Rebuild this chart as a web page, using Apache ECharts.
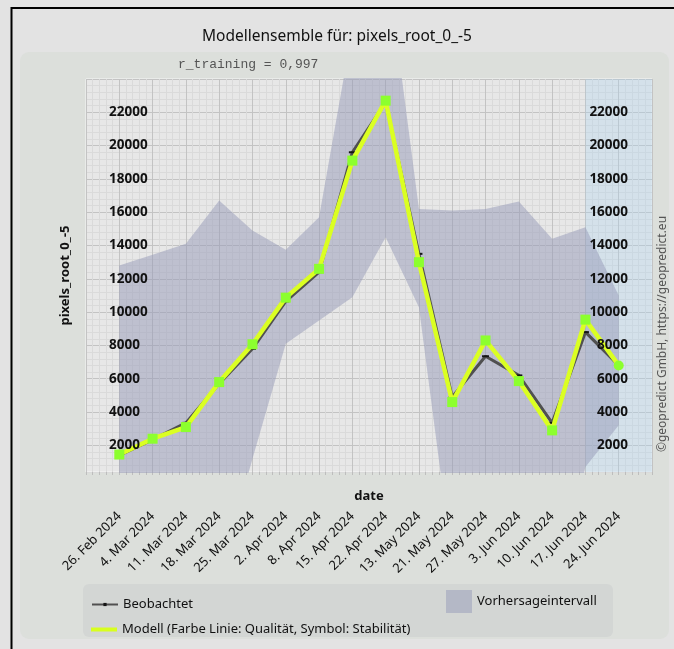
<!DOCTYPE html>
<html>
<head>
<meta charset="utf-8">
<script src="https://cdn.jsdelivr.net/npm/echarts@6/dist/echarts.min.js"></script>
<style>
  html, body { margin: 0; padding: 0; background: #e3e3e3; }
  #chart { width: 674px; height: 649px; }
</style>
</head>
<body>
<div id="chart"></div>
<script>
// Weekly dates of the ensemble run
const dateLabels = ['26. Feb 2024', '4. Mar 2024', '11. Mar 2024', '18. Mar 2024', '25. Mar 2024',
  '2. Apr 2024', '8. Apr 2024', '15. Apr 2024', '22. Apr 2024', '13. May 2024', '21. May 2024',
  '27. May 2024', '3. Jun 2024', '10. Jun 2024', '17. Jun 2024', '24. Jun 2024'];

// Observed values (Beobachtet)
const observed = [1400, 2350, 3350, 5700, 7800, 10650, 12400, 19600, 22600, 13500, 4900, 7350, 6200, 3350, 8800, 6800];

// Ensemble model values
const model = [1450, 2400, 3100, 5800, 8070, 10870, 12600, 19100, 22700, 13000, 4600, 8300, 5860, 2900, 9550, 6800];
const modelSymbols = ['rect', 'rect', 'rect', 'rect', 'rect', 'rect', 'rect', 'rect', 'rect', 'rect',
  'rect', 'rect', 'rect', 'rect', 'rect', 'circle'];

// Prediction interval bounds (Vorhersageintervall)
const intervalLower = [-9000, -9000, -8000, -6000, 1200, 8100, 9500, 10900, 14500, 10300, -5000, -9000, -9000, -8000, 700, 3200];
const intervalUpper = [12800, 13450, 14100, 16700, 14900, 13750, 15700, 27000, 31500, 16200, 16100, 16200, 16650, 14400, 15100, 11000];

// Forecast period starts at this date index
const forecastStart = 14;

// Labelled y values
const yTickValues = [2000, 4000, 6000, 8000, 10000, 12000, 14000, 16000, 18000, 20000, 22000];

const modelName = 'Modell (Farbe Linie: Qualität, Symbol: Stabilität)';

const chart = echarts.init(document.getElementById('chart'), null, { renderer: 'canvas' });

// one empty slot on each side of the dates
const padL = ' ', padR = '  ';
const cats = [padL].concat(dateLabels, [padR]);
const xy = arr => arr.map((v, i) => [i + 1, v]);
const yLabel = v => (yTickValues.indexOf(v) >= 0 ? String(v) : '');

const minorC = '#dadada', majorC = '#c3c3c3';
const hLineColors = [minorC, minorC, minorC, minorC, majorC];
const vLineColors = [majorC, minorC, minorC, minorC, minorC];
const txt = '#111';

const option = {
  animation: false,
  backgroundColor: '#e3e3e3',
  textStyle: { fontFamily: 'Noto Sans' },
  title: {
    text: 'Modellensemble für: pixels_root_0_-5',
    left: 'center', top: 24,
    textStyle: { fontSize: 15.5, fontWeight: 'normal', color: txt, fontFamily: 'Noto Sans' }
  },
  graphic: [
    { type: 'rect', z: -10, silent: true, shape: { x: 20, y: 52, width: 649, height: 587, r: 9 }, style: { fill: '#dcdfdb' } },
    { type: 'rect', z: -9, silent: true, shape: { x: 83, y: 584, width: 530, height: 53, r: 6 }, style: { fill: '#d3d6d4' } },
    { type: 'line', silent: true, shape: { x1: 11, y1: 8, x2: 674, y2: 8 }, style: { stroke: '#000', lineWidth: 2 } },
    { type: 'line', silent: true, shape: { x1: 11.5, y1: 7, x2: 11.5, y2: 649 }, style: { stroke: '#000', lineWidth: 2 } },
    { type: 'text', silent: true, x: 178, y: 65,
      style: { text: 'r_training = 0,997', fontFamily: 'Liberation Mono', fontSize: 13, fill: '#555', verticalAlign: 'middle' } },
    { type: 'text', silent: true, x: 663, y: 334, rotation: Math.PI / 2,
      style: { text: '©geopredict GmbH, https://geopredict.eu', fontFamily: 'Noto Sans', fontSize: 12,
        fill: '#555', align: 'center', verticalAlign: 'middle' } }
  ],
  legend: [
    { data: ['Beobachtet'], left: 91, top: 598, itemWidth: 26, itemHeight: 4, padding: 0,
      selectedMode: false, textStyle: { fontSize: 13, color: txt } },
    { data: [{ name: 'Vorhersageintervall', icon: 'rect' }], left: 446, top: 590, itemWidth: 26, itemHeight: 23,
      padding: 0, selectedMode: false, textStyle: { fontSize: 13, color: txt } },
    { data: [{ name: modelName, icon: 'rect', itemStyle: { color: '#d8ff1e' } }], left: 91, top: 623,
      itemWidth: 26, itemHeight: 4, padding: 0, selectedMode: false, textStyle: { fontSize: 13, color: txt } }
  ],
  grid: {
    left: 86, top: 79, width: 566, height: 393,
    show: true, backgroundColor: '#e7e7e7', borderColor: '#f7f7f7', borderWidth: 1
  },
  xAxis: [
    {
      type: 'category', data: cats, boundaryGap: false,
      axisLine: { show: false }, axisTick: { show: false }, splitLine: { show: false },
      axisLabel: { interval: 0, rotate: 45, margin: 42, fontSize: 13, color: txt },
      name: 'date', nameLocation: 'middle', nameGap: 18, nameMoveOverlap: false,
      nameTextStyle: { fontSize: 13, fontWeight: 'bold', color: txt }
    },
    {
      // fine vertical grid, five steps per date
      type: 'value', min: 0, max: 85, interval: 1, position: 'bottom',
      axisLine: { show: false }, axisLabel: { show: false },
      axisTick: { show: true, length: 3, lineStyle: { color: '#bdbdbd' } },
      splitLine: { show: true, lineStyle: { color: vLineColors, width: 1 } }
    }
  ],
  yAxis: [
    {
      type: 'value', min: 400, max: 24000, interval: 400, position: 'left', z: 10,
      axisLine: { show: false }, axisTick: { show: false }, splitLine: { show: false },
      axisLabel: { inside: true, margin: 23, formatter: yLabel, fontSize: 13.5, fontWeight: 'bold', color: txt },
      name: 'pixels_root_0_-5', nameLocation: 'middle', nameGap: 14,
      nameTextStyle: { fontSize: 13, fontWeight: 'bold', color: txt }
    },
    {
      type: 'value', min: 400, max: 24000, interval: 400, position: 'right', z: 10,
      axisLine: { show: false }, axisTick: { show: false }, splitLine: { show: false },
      axisLabel: { inside: true, margin: 24, formatter: yLabel, fontSize: 13.5, fontWeight: 'bold', color: txt }
    },
    {
      // horizontal grid: fine steps, darker every 2000
      type: 'value', min: 400, max: 24000, interval: 400, position: 'left',
      axisLine: { show: false }, axisTick: { show: false }, axisLabel: { show: false },
      splitLine: { show: true, lineStyle: { color: hLineColors, width: 1 } }
    }
  ],
  series: [
    {
      name: 'intervalBase', type: 'line', data: xy(intervalLower),
      stack: 'band', stackStrategy: 'all', symbol: 'none', silent: true, z: 1,
      lineStyle: { opacity: 0 },
      markArea: {
        silent: true,
        itemStyle: { color: 'rgba(170, 212, 238, 0.32)' },
        data: [[{ xAxis: dateLabels[forecastStart] }, { xAxis: padR }]]
      }
    },
    {
      name: 'Vorhersageintervall', type: 'line',
      data: xy(intervalUpper.map((u, i) => u - intervalLower[i])),
      stack: 'band', stackStrategy: 'all', symbol: 'none', silent: true, z: 2,
      lineStyle: { opacity: 0 },
      itemStyle: { color: 'rgba(150, 154, 184, 0.5)' },
      areaStyle: { color: 'rgba(150, 154, 184, 0.5)', opacity: 1 }
    },
    {
      name: 'Beobachtet', type: 'line', data: xy(observed), z: 3,
      symbol: 'rect', symbolSize: [7, 2],
      itemStyle: { color: '#151515' },
      lineStyle: { color: '#505050', width: 3 }
    },
    {
      name: modelName, type: 'line', z: 4,
      data: model.map((v, i) => ({ value: [i + 1, v], symbol: modelSymbols[i] })),
      symbolSize: 10,
      itemStyle: { color: '#8cff2e' },
      lineStyle: { color: '#dbff22', width: 4.5 }
    }
  ]
};

chart.setOption(option);
</script>
</body>
</html>
